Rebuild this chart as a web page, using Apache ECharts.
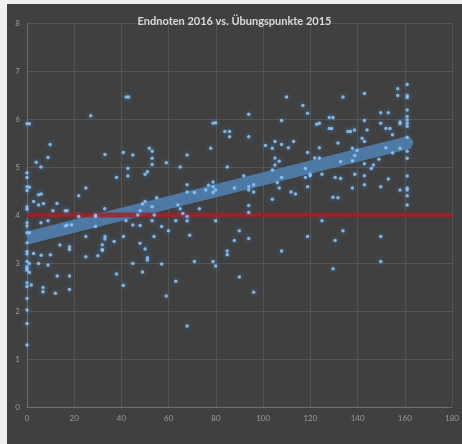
<!DOCTYPE html>
<html>
<head>
<meta charset="utf-8">
<script src="https://cdn.jsdelivr.net/npm/echarts@6/dist/echarts.min.js"></script>
<style>
  html, body { margin: 0; padding: 0; background: #f0f0f0; }
  #chart { position: absolute; left: 7px; top: 4px; width: 455px; height: 440px; background: #404040; }
</style>
</head>
<body>
<div id="chart"></div>
<script>
// Übungspunkte 2015 (x) und Endnoten 2016 (y), paarweise
var punkte = [
  0, 1, 0, 0, 0, 1, 0, 0, 0, 0, 0, 0, 1, 0, 0, 0, 0, 1, 0, 0, 0, 1, 0, 0, 0, 0, 0, 0,
  27, 9.8, 8.9, 3.9, 5.9, 33, 40.8, 42.7, 42.7, 37.9, 24.9, 21.9, 2.8, 4.9, 6, 4.9, 7, 12.7, 11, 16.2, 17, 32.9,
  21.9, 29, 29, 8.9, 5.9, 16.2, 17, 18.9, 29, 41.9, 13.9, 18, 18, 24.9, 33, 33, 31.9, 31.9, 31.9, 36.9, 40.9,
  2.8, 6, 9.9, 24.9, 30, 4.9, 8.9, 12.8, 18, 37.9, 1.8, 6.8, 6.8, 12, 18, 40.8,
  42, 43, 78.8, 79.9, 83.8, 85.8, 85.8, 77.8, 44.8, 51.8, 53, 53, 53, 59, 67.8, 64.9, 50, 51, 84.8, 67.8,
  76.9, 78.8, 78.8, 79.9, 75.7, 78.8, 67.8, 70.9, 54.9, 50, 48.9, 53, 63.9, 64.9, 73, 47.9, 66, 46.9, 53.9, 67.8,
  44.8, 47.9, 53, 63, 67.8, 79.9, 57, 59.9, 53.8, 68.9, 47.9, 50, 51, 51, 44.8, 57, 70.9, 78.8, 79.9, 84.8, 84.8,
  48.9, 63, 59, 67.8,
  109.9, 116.8, 118.8, 93.9, 107.8, 122.7, 123.8, 128, 129.6, 128, 129, 93.9, 101, 103.9, 105, 107.8, 110.7,
  112.9, 118.8, 123.8, 121.8, 123.8, 105, 106.8, 105, 103.9, 91.8, 107.8, 117.9, 117.9, 119.9, 119.9, 124.9,
  130.5, 87.8, 93.9, 96, 93.9, 96, 106, 106.8, 118.8, 111.8, 113.7, 103.9, 129.6, 93.9, 93.9, 124.9, 89.9, 87.8,
  93.9, 118.8, 130.5, 107.8, 89.9, 96, 129.6,
  161, 157, 157, 161, 161, 133.8, 142.9, 161, 161, 161, 161, 161, 158, 158, 149.8, 153, 142.9, 149.8, 135.9, 137,
  138.7, 144, 152, 153.7, 154.8, 161, 141.9, 142.9, 131.7, 137.8, 139.8, 138.8, 152, 158, 154.8, 161, 161, 132.8,
  137.8, 142.9, 149, 146.7, 145.8, 132.8, 138.8, 142.9, 153, 161, 137.8, 142.9, 149.8, 158, 161, 161, 161, 161,
  131.7, 133.8, 149.8, 149.8
];
var noten = [
  5.9, 5.9, 4.88, 4.78, 4.59, 4.58, 4.51, 4.17, 4.12, 3.84, 3.77, 3.63, 3.63, 3.42, 3.24, 3.19, 3.03, 2.99, 2.92,
  2.89, 2.85, 2.8, 2.59, 2.51, 2.26, 2.02, 1.74, 1.29,
  6.07, 5.47, 5.2, 5.1, 5.0, 5.26, 5.3, 4.97, 4.81, 4.78, 4.56, 4.4, 4.28, 4.42, 4.44, 4.21, 4.24, 4.24, 4.09, 4.09, 4.09, 4.13,
  3.97, 4.0, 3.97, 3.88, 3.84, 3.77, 3.79, 3.79, 3.76, 3.88, 3.375, 3.34, 3.28, 3.55, 3.55, 3.5, 3.38, 3.28, 3.26, 3.45, 3.55,
  3.2, 3.16, 3.17, 3.13, 3.15, 2.99, 2.96, 2.73, 2.73, 2.77, 2.54, 2.49, 2.4, 2.37, 2.45, 2.53,
  6.46, 6.46, 5.91, 5.92, 5.74, 5.74, 5.63, 5.39, 5.25, 5.39, 5.33, 5.18, 5.05, 5.09, 5.25, 5.0, 4.85, 4.9, 5.0, 4.63,
  4.62, 4.69, 4.59, 4.52, 4.52, 4.47, 4.48, 4.47, 4.36, 4.28, 4.23, 4.17, 4.21, 4.13, 4.13, 4.09, 4.03, 4.0, 4.0, 3.97,
  3.79, 3.78, 3.88, 3.88, 3.88, 3.88, 3.76, 3.67, 3.55, 3.58, 3.41, 3.29, 3.11, 3.06, 2.99, 2.98, 3.03, 3.03, 2.94, 3.25, 3.17,
  2.81, 2.62, 2.31, 1.69,
  6.46, 6.28, 6.12, 6.1, 5.97, 5.89, 5.91, 6.03, 6.03, 5.8, 5.8, 5.63, 5.45, 5.39, 5.53, 5.47, 5.4,
  5.53, 5.3, 5.4, 5.19, 5.19, 5.19, 5.12, 5.04, 4.94, 4.82, 4.78, 4.97, 4.78, 4.85, 4.82, 4.85,
  4.78, 4.56, 4.59, 4.63, 4.52, 4.48, 4.67, 4.56, 4.59, 4.48, 4.44, 4.33, 4.37, 4.2, 4.05, 3.88, 3.67, 3.47,
  3.51, 3.55, 3.47, 3.25, 2.71, 2.39, 2.88,
  6.72, 6.63, 6.49, 6.49, 6.45, 6.46, 6.53, 6.19, 6.05, 5.98, 5.91, 5.85, 5.94, 5.9, 6.13, 6.13, 5.97, 5.91, 5.74, 5.74,
  5.77, 5.77, 5.8, 5.8, 5.67, 5.62, 5.6, 5.53, 5.5, 5.39, 5.35, 5.24, 5.4, 5.39, 5.29, 5.33, 5.18, 5.11,
  5.13, 5.07, 5.16, 5.04, 4.97, 4.76, 4.85, 4.82, 4.75, 4.81, 4.56, 4.63, 4.59, 4.52, 4.56, 4.52, 4.4, 4.21,
  4.36, 3.67, 3.55, 3.03
];
// Trendlinie und Bestehensgrenze
var trendX = [0, 160.8];
var trendY = [3.52, 5.5];
var grenzeX = [0, 180];
var grenzeY = [4, 4];

var punktDaten = [];
for (var i = 0; i < punkte.length; i++) {
    punktDaten.push([punkte[i], noten[i]]);
}

var trendFarbe = '#4f79a3';

var chart = echarts.init(document.getElementById('chart'));
var option = {
    backgroundColor: '#404040',
    animation: false,
    title: {
        text: 'Endnoten 2016 vs. Übungspunkte 2015',
        left: 'center',
        top: 7,
        textStyle: { color: '#d9d9d9', fontSize: 11, fontWeight: 'bold', fontFamily: 'Lato' }
    },
    grid: { left: 20, right: 4, top: 19, bottom: 37, containLabel: false },
    xAxis: {
        type: 'value',
        min: 0, max: 180, interval: 20,
        axisLine: { show: true, lineStyle: { color: '#6e6e6e' } },
        axisTick: { show: false },
        axisLabel: { color: '#9a9a9a', fontSize: 8, margin: 7, fontFamily: 'Lato' },
        splitLine: { show: true, lineStyle: { color: '#545454', width: 1 } }
    },
    yAxis: {
        type: 'value',
        min: 0, max: 8, interval: 1,
        axisLine: { show: true, lineStyle: { color: '#6e6e6e' } },
        axisTick: { show: false },
        axisLabel: { color: '#9a9a9a', fontSize: 8, margin: 7, fontFamily: 'Lato' },
        splitLine: { show: true, lineStyle: { color: '#545454', width: 1 } }
    },
    series: [
        {
            type: 'line',
            data: [[trendX[0], trendY[0]], [trendX[1], trendY[1]]],
            symbol: function (v) { return v[0] > 0 ? 'circle' : 'none'; },
            symbolSize: 13,
            showAllSymbol: true,
            itemStyle: { color: trendFarbe, borderWidth: 0 },
            lineStyle: { color: trendFarbe, width: 13, cap: 'butt' },
            z: 1
        },
        {
            type: 'line',
            data: [[grenzeX[0], grenzeY[0]], [grenzeX[1], grenzeY[1]]],
            symbol: 'none',
            lineStyle: { color: 'rgba(160,32,38,0.82)', width: 5 },
            z: 2
        },
        {
            type: 'scatter',
            data: punktDaten,
            symbolSize: 3.5,
            itemStyle: {
                color: '#9ccdf7',
                shadowBlur: 5,
                shadowColor: 'rgba(70,150,235,1)'
            },
            z: 3
        }
    ]
};
chart.setOption(option);
</script>
</body>
</html>
